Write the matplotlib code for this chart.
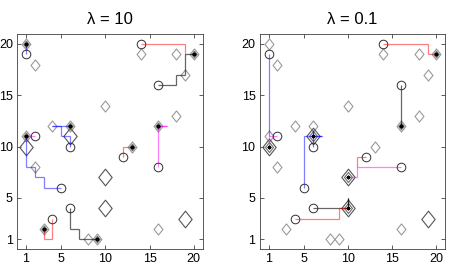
import matplotlib
matplotlib.use('Agg')
import matplotlib.pyplot as plt
from matplotlib.path import Path

# ---- data ----
target_x = [1, 2, 10, 4, 6, 1, 6, 1, 2, 10, 10, 3, 8, 9, 16, 19, 13, 16, 18, 14, 18, 19, 20]
target_y = [20, 18, 14, 12, 12, 11, 11, 10, 8, 7, 4, 2, 1, 1, 2, 3, 10, 12, 13, 19, 19, 17, 19]
target_w = [1, 1, 1, 1, 1, 1, 2, 2, 1, 2, 2, 1, 1, 1, 1, 2, 1, 1, 1, 1, 1, 1, 1]

agent_x = [1, 2, 6, 5, 6, 4, 12, 16, 16, 14]
agent_y = [19, 11, 10, 6, 4, 3, 9, 8, 16, 20]
agent_color = ['blue', 'magenta', 'blue', 'blue', 'black', 'red', 'red', 'magenta', 'black', 'red']

titles = ['λ = 10', 'λ = 0.1']

paths_lam10 = [
    [(1, 19), (1, 20)],
    [(2, 11), (1, 11)],
    [(6, 10), (6, 11), (5, 11), (5, 12), (4, 12), (6, 12)],
    [(5, 6), (3, 6), (3, 7), (2, 7), (2, 8), (1, 8), (1, 11)],
    [(6, 4), (6, 2), (7, 2), (7, 1), (9, 1)],
    [(4, 3), (4, 1), (3, 1), (3, 2)],
    [(12, 9), (12, 10), (13, 10)],
    [(16, 8), (16, 12), (17, 12), (16, 12)],
    [(16, 16), (18, 16), (18, 17), (19, 17), (19, 19), (20, 19)],
    [(14, 20), (19, 20), (19, 19)],
]
paths_lam01 = [
    [(1, 19), (1, 11)],
    [(2, 11), (1, 11), (1, 10)],
    [(6, 10), (6, 11.6), (6, 11)],
    [(5, 6), (5, 11), (7, 11), (6, 11)],
    [(6, 4), (10, 4), (10, 5), (10, 4)],
    [(4, 3), (9, 3), (9, 4), (10, 4)],
    [(12, 9), (11, 9), (11, 8)],
    [(16, 8), (11, 8), (11, 7), (10, 7)],
    [(16, 16), (16, 12)],
    [(14, 20), (19, 20), (19, 19), (20, 19)],
]
selected_lam10 = [(1, 20), (1, 11), (6, 12), (9, 1), (3, 2), (13, 10), (16, 12), (20, 19)]
selected_lam01 = [(1, 10), (6, 11), (10, 7), (10, 4), (16, 12), (20, 19)]

panels = [(paths_lam10, selected_lam10), (paths_lam01, selected_lam01)]

# ---- style ----
plt.rcParams['font.family'] = ['Liberation Sans', 'DejaVu Sans']
diamond = Path([(0, 1), (0.8, 0), (0, -1), (-0.8, 0), (0, 1)],
               [Path.MOVETO, Path.LINETO, Path.LINETO, Path.LINETO, Path.CLOSEPOLY])
col_map = {'blue': (0, 0, 1), 'magenta': (1, 0, 1), 'red': (1, 0, 0), 'black': (0, 0, 0)}
size_map = {1: 8.0, 2: 12.0}
dcol_map = {1: '#9a9a9a', 2: '#555555'}

fig = plt.figure(figsize=(4.49, 2.64), dpi=100)
ax_rects = [[17 / 449, 14.7 / 264, 185.6 / 449, 215.6 / 264],
            [259.7 / 449, 14.7 / 264, 185.6 / 449, 215.6 / 264]]

for (paths, selected), title, rect in zip(panels, titles, ax_rects):
    ax = fig.add_axes(rect)
    # targets
    for tx, ty, tw in zip(target_x, target_y, target_w):
        ax.plot(tx, ty, marker=diamond, ms=size_map[tw], mfc='none',
                mec=dcol_map[tw], mew=0.8, ls='none', zorder=2)
    for (sx, sy) in selected:
        i = [k for k in range(len(target_x)) if target_x[k] == sx and target_y[k] == sy][0]
        ax.plot(sx, sy, marker=diamond, ms=size_map[target_w[i]] * 0.6, mfc='none',
                mec='#707070', mew=0.8, ls='none', zorder=2)
    # paths (segment by segment so overlaps darken)
    for path, c in zip(paths, agent_color):
        alpha = 0.5 if c != 'black' else 0.6
        for (x0, y0), (x1, y1) in zip(path[:-1], path[1:]):
            ax.plot([x0, x1], [y0, y1], color=col_map[c], alpha=alpha, lw=0.9,
                    solid_capstyle='butt', zorder=3)
    # selected target centers
    for (sx, sy) in selected:
        ax.plot(sx, sy, marker='s', ms=2.0, color='black', mew=0, ls='none', zorder=5)
        ax.plot(sx, sy, marker=(8, 2, 0), ms=3, color='black', mew=0.4, ls='none', zorder=5)
    # agents
    ax.plot(agent_x, agent_y, 'o', ms=6.2, mfc='none', mec='#303030', mew=0.7, zorder=4)

    ax.set_xlim(0, 21)
    ax.set_ylim(0, 21)
    ax.set_xticks([1, 5, 10, 15, 20])
    ax.set_yticks([1, 5, 10, 15, 20])
    ax.tick_params(direction='in', length=3, width=0.6, top=True, right=True,
                   labelsize=9, pad=3, colors='#404040', labelcolor='black')
    for s in ax.spines.values():
        s.set_linewidth(0.6)
        s.set_color('#404040')
    ax.set_title(title, fontsize=12, pad=7)

fig.savefig('out.png', dpi=100)
